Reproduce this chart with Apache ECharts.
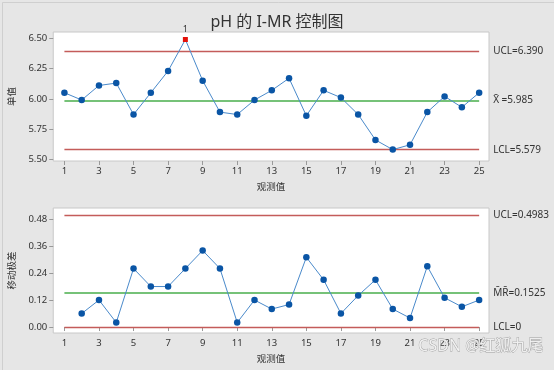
<!DOCTYPE html>
<html>
<head>
<meta charset="utf-8">
<script src="https://cdn.jsdelivr.net/npm/echarts@6/dist/echarts.min.js"></script>
<style>
html,body{margin:0;padding:0;background:#e6e6e6;}
#c{width:554px;height:370px;}
</style>
</head>
<body>
<div id="c"></div>
<script>
// ---- data ----
const obs = [1,2,3,4,5,6,7,8,9,10,11,12,13,14,15,16,17,18,19,20,21,22,23,24,25];
const iValues = [6.05,5.99,6.11,6.13,5.87,6.05,6.23,6.49,6.15,5.89,5.87,5.99,6.07,6.17,5.86,6.07,6.01,5.87,5.66,5.58,5.62,5.89,6.02,5.93,6.05];
const mrObs = [2,3,4,5,6,7,8,9,10,11,12,13,14,15,16,17,18,19,20,21,22,23,24,25];
const mrValues = [0.06,0.12,0.02,0.26,0.18,0.18,0.26,0.34,0.26,0.02,0.12,0.08,0.10,0.31,0.21,0.06,0.14,0.21,0.08,0.04,0.27,0.13,0.09,0.12];
const iLimits = {ucl:6.390, cl:5.985, lcl:5.579};
const mrLimits = {ucl:0.4983, cl:0.1525, lcl:0};
const iLimitLabels = ['UCL=6.390','X\u0304 =5.985','LCL=5.579'];
const mrLimitLabels = ['UCL=0.4983','M\u0304R\u0304=0.1525','LCL=0'];
const xTicks = [1,3,5,7,9,11,13,15,17,19,21,23,25];
const iTicks = [5.50,5.75,6.00,6.25,6.50];
const mrTicks = [0.00,0.12,0.24,0.36,0.48];
const outOfControl = [8];
const title = 'pH 的 I-MR 控制图';

const FONT = '"Noto Sans","Noto Sans CJK SC",sans-serif';
const RED = '#c45c5a', GREEN = '#76c278', LINE = '#4a8acb', MARK = '#0a55a5';

function limitLines(lim, labels){
  const keys = ['ucl','cl','lcl'];
  return keys.map((k,i)=>[
    {coord:[obs[0], lim[k]], lineStyle:{color: k==='cl'?GREEN:RED, width: k==='cl'?2:1.3, type:'solid'},
     label:{show:true, position:'end', distance:14, formatter:labels[i], color:'#333', fontSize:10, fontFamily:FONT}},
    {coord:[obs[obs.length-1], lim[k]]}
  ]);
}

const xAxisBase = (gi)=>({
  type:'value', gridIndex:gi, min:0.354, max:25.57,
  name:'观测值', nameLocation:'middle', nameGap:22,
  nameTextStyle:{fontSize:9.5, color:'#333', fontFamily:FONT},
  axisLine:{show:false},
  axisTick:{show:true, inside:false, length:4, customValues:xTicks, lineStyle:{color:'#999'}},
  axisLabel:{customValues:xTicks, fontSize:9.5, color:'#333', fontFamily:FONT, margin:6},
  splitLine:{show:false}
});

const chart = echarts.init(document.getElementById('c'), null, {renderer:'canvas'});
chart.setOption({
  backgroundColor:'#e6e6e6',
  animation:false,
  title:{text:title, left:'center', top:9, textStyle:{fontSize:16, fontWeight:'normal', color:'#333', fontFamily:FONT}},
  grid:[
    {left:48, top:32, width:441, height:129, show:true, backgroundColor:'#fff', borderColor:'#c8c8c8', borderWidth:1},
    {left:48, top:208, width:441, height:125, show:true, backgroundColor:'#fff', borderColor:'#c8c8c8', borderWidth:1}
  ],
  xAxis:[xAxisBase(0), xAxisBase(1)],
  yAxis:[
    {type:'value', gridIndex:0, min:5.486, max:6.552,
     name:'单值', nameLocation:'middle', nameGap:31, nameRotate:90,
     nameTextStyle:{fontSize:9.5, color:'#333', fontFamily:FONT},
     axisLine:{show:false},
     axisTick:{show:true, length:4, customValues:iTicks, lineStyle:{color:'#999'}},
     axisLabel:{customValues:iTicks, formatter:v=>v.toFixed(2), fontSize:9.5, color:'#333', fontFamily:FONT, margin:6},
     splitLine:{show:false}},
    {type:'value', gridIndex:1, min:-0.0265, max:0.529,
     name:'移动极差', nameLocation:'middle', nameGap:31, nameRotate:90,
     nameTextStyle:{fontSize:9.5, color:'#333', fontFamily:FONT},
     axisLine:{show:false},
     axisTick:{show:true, length:4, customValues:mrTicks, lineStyle:{color:'#999'}},
     axisLabel:{customValues:mrTicks, formatter:v=>v.toFixed(2), fontSize:9.5, color:'#333', fontFamily:FONT, margin:6},
     splitLine:{show:false}}
  ],
  series:[
    {type:'line', xAxisIndex:0, yAxisIndex:0, z:5,
     data: obs.map((x,i)=>{
       const bad = outOfControl.includes(x);
       return bad ? {value:[x,iValues[i]], symbol:'rect', symbolSize:5, itemStyle:{color:'#e3120b'},
         label:{show:true, formatter:'1', position:'top', distance:3, color:'#333', fontSize:9, fontFamily:FONT}}
         : {value:[x,iValues[i]]};
     }),
     symbol:'circle', symbolSize:6.5, itemStyle:{color:MARK},
     lineStyle:{color:LINE, width:1},
     markLine:{silent:true, symbol:'none', z:2, data:limitLines(iLimits, iLimitLabels)}},
    {type:'line', xAxisIndex:1, yAxisIndex:1, z:5,
     data: mrObs.map((x,i)=>[x, mrValues[i]]),
     symbol:'circle', symbolSize:6.5, itemStyle:{color:MARK},
     lineStyle:{color:LINE, width:1},
     markLine:{silent:true, symbol:'none', z:2, data:limitLines(mrLimits, mrLimitLabels)}}
  ],
  graphic:[
    {type:'rect', left:0, top:0, shape:{width:553, height:369}, style:{fill:'none', stroke:'#cfcfcf', lineWidth:1}, silent:true},
    {type:'text', right:10, top:338, style:{text:'CSDN @红狐九尾', fontSize:16, fontFamily:FONT, fill:'rgba(245,245,245,0.9)', stroke:'#a0a0a0', lineWidth:0.8}, z:100}
  ]
});
</script>
</body>
</html>
